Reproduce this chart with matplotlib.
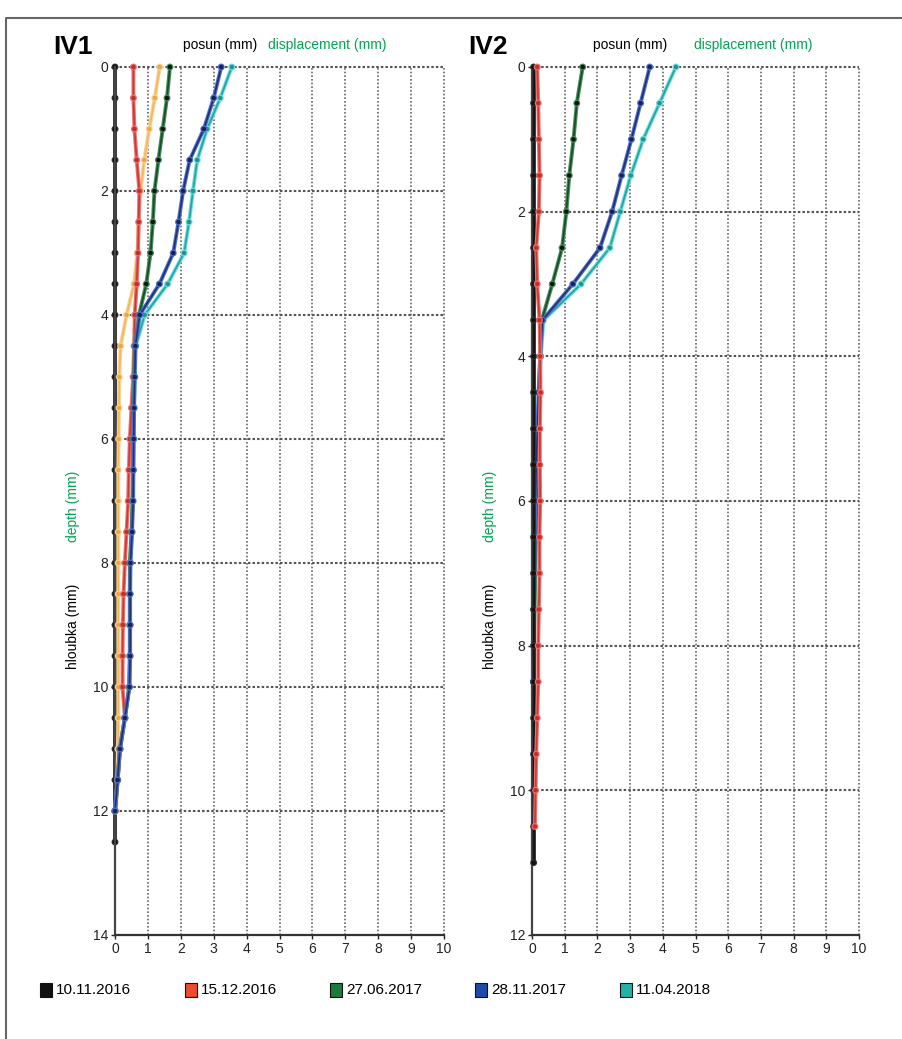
import numpy as np
import matplotlib
matplotlib.use("Agg")
import matplotlib.pyplot as plt
import matplotlib.patheffects as pe
from matplotlib.patches import Rectangle
from matplotlib.lines import Line2D

plt.rcParams['font.family'] = ['Liberation Sans Narrow', 'Liberation Sans', 'DejaVu Sans']

# IV1 data (depth step 0.5 m)
iv1_depth = [i * 0.5 for i in range(26)]            # 0 .. 12.5
iv1_depth_c = [i * 0.5 for i in range(25)]          # 0 .. 12
iv1_black = [0.0] * 26
iv1_orange = [1.36, 1.21, 1.04, 0.89, 0.78, 0.72, 0.68, 0.58, 0.35, 0.17, 0.13, 0.12, 0.11,
              0.10, 0.10, 0.10, 0.10, 0.10, 0.10, 0.10, 0.10, 0.10, 0.09, 0.07, 0.03]
iv1_red = [0.56, 0.56, 0.59, 0.66, 0.74, 0.72, 0.70, 0.66, 0.60, 0.58, 0.55, 0.50, 0.45,
           0.42, 0.40, 0.35, 0.30, 0.26, 0.24, 0.23, 0.23, 0.30, 0.15, 0.08, 0.00]
iv1_green = [1.67, 1.58, 1.45, 1.32, 1.20, 1.15, 1.08, 0.95, 0.73, 0.60, 0.58, 0.57, 0.55,
             0.55, 0.53, 0.50, 0.45, 0.45, 0.45, 0.45, 0.43, 0.30, 0.15, 0.08, 0.00]
iv1_blue = [3.23, 3.00, 2.70, 2.27, 2.07, 1.93, 1.77, 1.35, 0.75, 0.62, 0.60, 0.58, 0.57,
            0.56, 0.55, 0.52, 0.47, 0.46, 0.46, 0.46, 0.44, 0.30, 0.15, 0.08, 0.00]
iv1_cyan = [3.55, 3.20, 2.80, 2.50, 2.37, 2.25, 2.10, 1.60, 0.90, 0.63, 0.60, 0.58, 0.56,
            0.55, 0.54, 0.51, 0.46, 0.45, 0.45, 0.45, 0.43, 0.30, 0.15, 0.08, 0.00]

# IV2 data
iv2_depth = [i * 0.5 for i in range(23)]            # 0 .. 11
iv2_depth_r = [i * 0.5 for i in range(22)]          # 0 .. 10.5
iv2_depth_c = [i * 0.5 for i in range(18)]          # 0 .. 8.5
iv2_black = [0.05] * 23
iv2_red = [0.16, 0.19, 0.21, 0.23, 0.21, 0.13, 0.16, 0.23, 0.25, 0.26, 0.24, 0.24, 0.25,
           0.23, 0.23, 0.21, 0.19, 0.19, 0.16, 0.13, 0.11, 0.09]
iv2_green = [1.55, 1.37, 1.27, 1.14, 1.05, 0.92, 0.62, 0.30, 0.25, 0.22, 0.20, 0.18, 0.15,
             0.12, 0.10, 0.08, 0.06, 0.05]
iv2_blue = [3.60, 3.32, 3.04, 2.74, 2.45, 2.08, 1.25, 0.32, 0.25, 0.20, 0.17, 0.13, 0.10,
            0.08, 0.07, 0.06, 0.06, 0.05]
iv2_cyan = [4.40, 3.90, 3.40, 3.02, 2.70, 2.38, 1.50, 0.35, 0.27, 0.22, 0.18, 0.14, 0.10,
            0.08, 0.07, 0.06, 0.06, 0.05]

legend_labels = ['10.11.2016', '15.12.2016', '27.06.2017', '28.11.2017', '11.04.2018']
legend_colors = ['#111111', '#ee4a2f', '#1d7a3e', '#1f4aa8', '#22b3a8']

# line styles: (outer, inner, marker)
sty = {
    'black': ('#333333', '#111111', '#111111'),
    'orange': ('#f8d293', '#f0b860', '#e8a848'),
    'red': ('#f07070', '#c83a32', '#c0302a'),
    'green': ('#3f8f55', '#1f4a2c', '#111111'),
    'blue': ('#4a6fd0', '#26306b', '#1a2050'),
    'cyan': ('#66dede', '#2a9f9f', '#2a8f8f'),
}

green_txt = '#00a651'

fig = plt.figure(figsize=(9.02, 10.39), dpi=100)


def draw(ax, x, y, key, z=3):
    outer, inner, mk = sty[key]
    ax.plot(x, y, color=inner, lw=1.2, marker='o', ms=2.2, mfc=mk, mec=mk,
            path_effects=[pe.Stroke(linewidth=2.8, foreground=outer), pe.Normal()],
            zorder=z, clip_on=False)


def setup(ax, ymax):
    ax.set_xlim(0, 10)
    ax.set_ylim(ymax, 0)
    ax.set_xticks(range(11))
    ax.set_yticks(range(0, ymax + 1, 2))
    for s in ['top', 'right']:
        ax.spines[s].set_visible(False)
    ax.spines['left'].set_color('#444444')
    ax.spines['left'].set_linewidth(1.6)
    ax.spines['bottom'].set_color('#333333')
    ax.spines['bottom'].set_linewidth(1.6)
    for xv in range(1, 11):
        ax.axvline(xv, color='#666666', lw=1.2, ls=(0, (1, 1.2)), zorder=1, clip_on=False)
    for yv in range(0, ymax, 2):
        ax.axhline(yv, color='#555555', lw=1.5, ls=(0, (1.2, 1.0)), zorder=1, clip_on=False)
    ax.tick_params(length=3, width=1, labelsize=10, pad=2, colors='#222222')


# IV1
ax1 = fig.add_axes([115 / 902, 1 - 935 / 1039, 329 / 902, 868 / 1039])
setup(ax1, 14)
draw(ax1, iv1_black, iv1_depth, 'black', 2.4)
draw(ax1, iv1_cyan, iv1_depth_c, 'cyan', 2.5)
draw(ax1, iv1_orange, iv1_depth_c, 'orange', 2.6)
draw(ax1, iv1_red, iv1_depth_c, 'red', 2.7)
draw(ax1, iv1_green, iv1_depth_c, 'green', 2.8)
draw(ax1, iv1_blue, iv1_depth_c, 'blue', 2.9)

# IV2
ax2 = fig.add_axes([532 / 902, 1 - 935 / 1039, 327 / 902, 868 / 1039])
setup(ax2, 12)
draw(ax2, iv2_cyan, iv2_depth_c, 'cyan', 2.5)
draw(ax2, iv2_green, iv2_depth_c, 'green', 2.6)
draw(ax2, iv2_blue, iv2_depth_c, 'blue', 2.7)
draw(ax2, iv2_black, iv2_depth, 'black', 2.8)
draw(ax2, iv2_red, iv2_depth_r, 'red', 2.9)

# titles and axis labels
for title, tx, px, dx, lx in [('IV1', 53, 183, 268, 73), ('IV2', 468, 593, 694, 490)]:
    fig.text(tx / 902, 1 - 47 / 1039, title, fontsize=19, fontweight='bold', va='center')
    fig.text(px / 902, 1 - 45 / 1039, 'posun (mm)', fontsize=10, va='center')
    fig.text(dx / 902, 1 - 45 / 1039, 'displacement (mm)', fontsize=10, va='center', color=green_txt)
    fig.text(lx / 902, 1 - 506 / 1039, 'depth (mm)', fontsize=10, rotation=90,
             ha='center', va='center', color=green_txt)
    fig.text(lx / 902, 1 - 626 / 1039, 'hloubka (mm)', fontsize=10, rotation=90,
             ha='center', va='center')

# legend
for i, (lab, col) in enumerate(zip(legend_labels, legend_colors)):
    x0 = 40 + 145 * i
    fig.add_artist(Rectangle((x0 / 902, 1 - 997 / 1039), 12 / 902, 14 / 1039,
                             transform=fig.transFigure, facecolor=col,
                             edgecolor='#111111', lw=0.8))
    fig.text((x0 + 16) / 902, 1 - 990 / 1039, lab, fontsize=11, va='center')

# frame
fig.add_artist(Line2D([6 / 902, 6 / 902, 1.0], [0.0, 1 - 18 / 1039, 1 - 18 / 1039],
                      transform=fig.transFigure, color='#666666', lw=1.5))

fig.savefig('out.png', dpi=100)
